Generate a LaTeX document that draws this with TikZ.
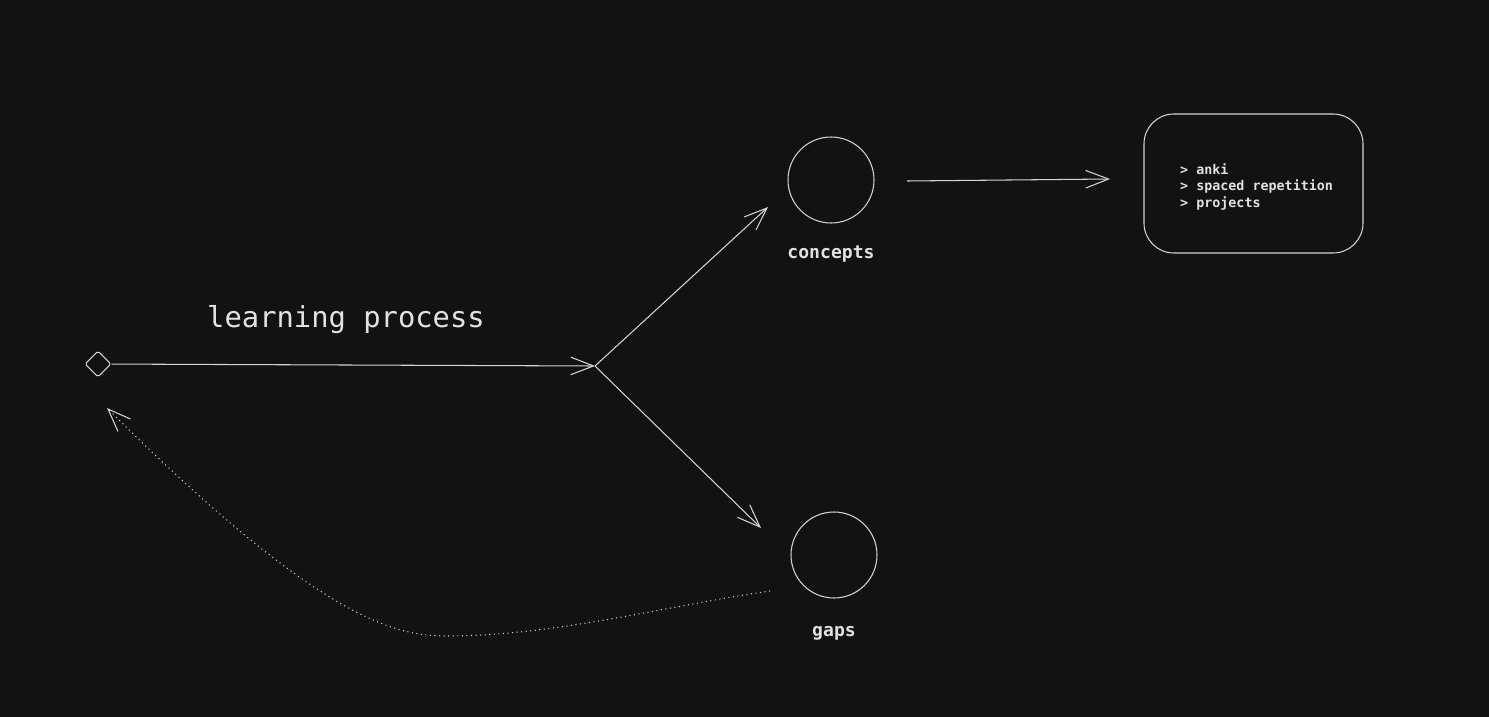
\documentclass[tikz,border=0pt]{standalone}
\usepackage{fontspec}
\setmonofont{DejaVu Sans Mono}
\usetikzlibrary{arrows.meta, shapes.geometric}

\definecolor{bgdark}{HTML}{121212}
\definecolor{inkgray}{HTML}{D4D4D4}
\definecolor{txtgray}{HTML}{E2E2E2}

\begin{document}
\begin{tikzpicture}[
    x=0.02cm, y=-0.02cm,
    stage/.style={draw=inkgray, circle, minimum size=86*0.02cm, inner sep=0pt, line width=0.6pt},
    lbl/.style={text=txtgray, font=\ttfamily\bfseries\fontsize{10.3}{12}\selectfont},
    toolbox/.style={draw=inkgray, rounded corners=17pt, minimum width=219*0.02cm, minimum height=139*0.02cm, line width=0.6pt},
    arr/.style={-{Straight Barb[length=13pt, width=10pt, line width=0.6pt]}, draw=inkgray, line width=0.6pt},
]
\fill[bgdark] (0,0) rectangle (1489,717);
\useasboundingbox (0,0) rectangle (1489,717);

\node[draw=inkgray, diamond, minimum size=26*0.02cm, inner sep=0pt, rounded corners=1pt, line width=0.6pt] (start) at (98,364) {};
\coordinate (split) at (595,366);

\node[stage] (concepts) at (831,180) {};
\node[stage] (gaps) at (834,555) {};
\node[lbl] (conceptslbl) at (831,254) {concepts};
\node[lbl] (gapslbl) at (834,633) {gaps};

\node[toolbox] (tools) at (1253.5,183.5) {};
\node[text=txtgray, font=\ttfamily\bfseries\fontsize{7.6}{9.6}\selectfont, align=left, anchor=north west] (toollist) at (1174,157) {> anki\\> spaced repetition\\> projects};

\node[text=txtgray, font=\ttfamily\fontsize{16.4}{19}\selectfont] (title) at (346,320) {learning process};

% free ends
\coordinate (conceptsin) at (768,207);
\coordinate (gapsin) at (761,528);
\coordinate (conceptsout) at (907,181);
\coordinate (toolsin) at (1110,179);
\coordinate (gapsout) at (770,591);
\coordinate (loopdip) at (445,636);
\coordinate (startin) at (107,408);

\draw[arr] (start) -- (split);
\draw[arr] (split) -- (conceptsin);
\draw[arr] (split) -- (gapsin);
\draw[arr] (conceptsout) -- (toolsin);
\draw[arr, dotted] (gapsout) .. controls (660,607) and (555,636) .. (loopdip)
    .. controls (395,636) and (317,618) .. (startin);

\end{tikzpicture}
\end{document}
